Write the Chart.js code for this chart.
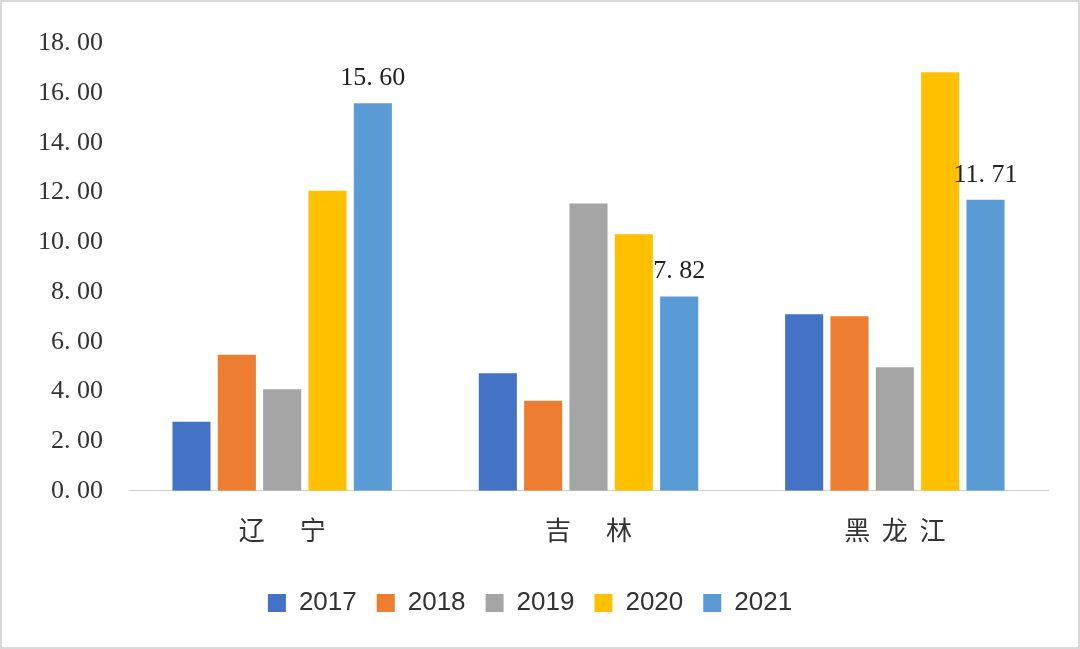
<!DOCTYPE html>
<html><head><meta charset="utf-8">
<script src="https://cdn.jsdelivr.net/npm/chart.js@4/dist/chart.umd.min.js"></script>
<style>
body{margin:0;background:#fff}
#wrap{width:1076px;height:645px;border:2px solid #d9d9d9;position:relative}
</style></head>
<body><div id="wrap"><canvas id="c"></canvas></div>
<script>
const provinces = ['辽      宁', '吉      林', '黑  龙  江'];
const years = ['2017', '2018', '2019', '2020', '2021'];
const v2017 = [2.78, 4.73, 7.11];
const v2018 = [5.48, 3.62, 7.03];
const v2019 = [4.09, 11.56, 4.97];
const v2020 = [12.08, 10.33, 16.85];
const v2021 = [15.60, 7.82, 11.71];
const colors = ['#4472C4', '#ED7D31', '#A5A5A5', '#FFC000', '#5B9BD5'];
const serif = '"Liberation Serif", "DejaVu Serif", "Noto Sans CJK SC", serif';

// value labels above the 2021 bars only
const labelPlugin = {
  id: 'labels2021',
  afterDatasetsDraw(chart) {
    const ctx = chart.ctx;
    const meta = chart.getDatasetMeta(4);
    ctx.save();
    ctx.font = '26px ' + serif;
    ctx.fillStyle = '#222';
    ctx.textAlign = 'center';
    ctx.textBaseline = 'bottom';
    meta.data.forEach((bar, i) => {
      ctx.fillText(v2021[i].toFixed(2).replace('.', '. '), bar.x, bar.y - 12);
    });
    ctx.restore();
  }
};

new Chart(document.getElementById('c'), {
  type: 'bar',
  data: {
    labels: provinces,
    datasets: [v2017, v2018, v2019, v2020, v2021].map((d, i) => ({
      label: years[i], data: d, backgroundColor: colors[i],
      barPercentage: 0.84, categoryPercentage: 0.74
    }))
  },
  options: {
    responsive: true, maintainAspectRatio: false, animation: false,
    layout: { padding: { left: 10, right: 30, top: 22, bottom: 21 } },
    plugins: {
      legend: {
        position: 'bottom',
        labels: { font: { size: 26, family: '"Liberation Sans", Arial, sans-serif' }, color: '#333',
          boxWidth: 18, boxHeight: 18, padding: 20 }
      },
      tooltip: { enabled: false }
    },
    scales: {
      x: {
        grid: { display: false, drawTicks: false },
        border: { color: '#d0d0d0' },
        ticks: { font: { size: 26, family: '"Noto Sans CJK SC", serif' }, color: '#333', padding: 24 }
      },
      y: {
        min: 0, max: 18,
        grid: { display: false, drawTicks: false },
        border: { display: false },
        ticks: { stepSize: 2, callback: v => v.toFixed(2).replace('.', '. '),
          font: { size: 26, family: serif }, color: '#333', padding: 26 }
      }
    }
  },
  plugins: [labelPlugin]
});
</script></body></html>
